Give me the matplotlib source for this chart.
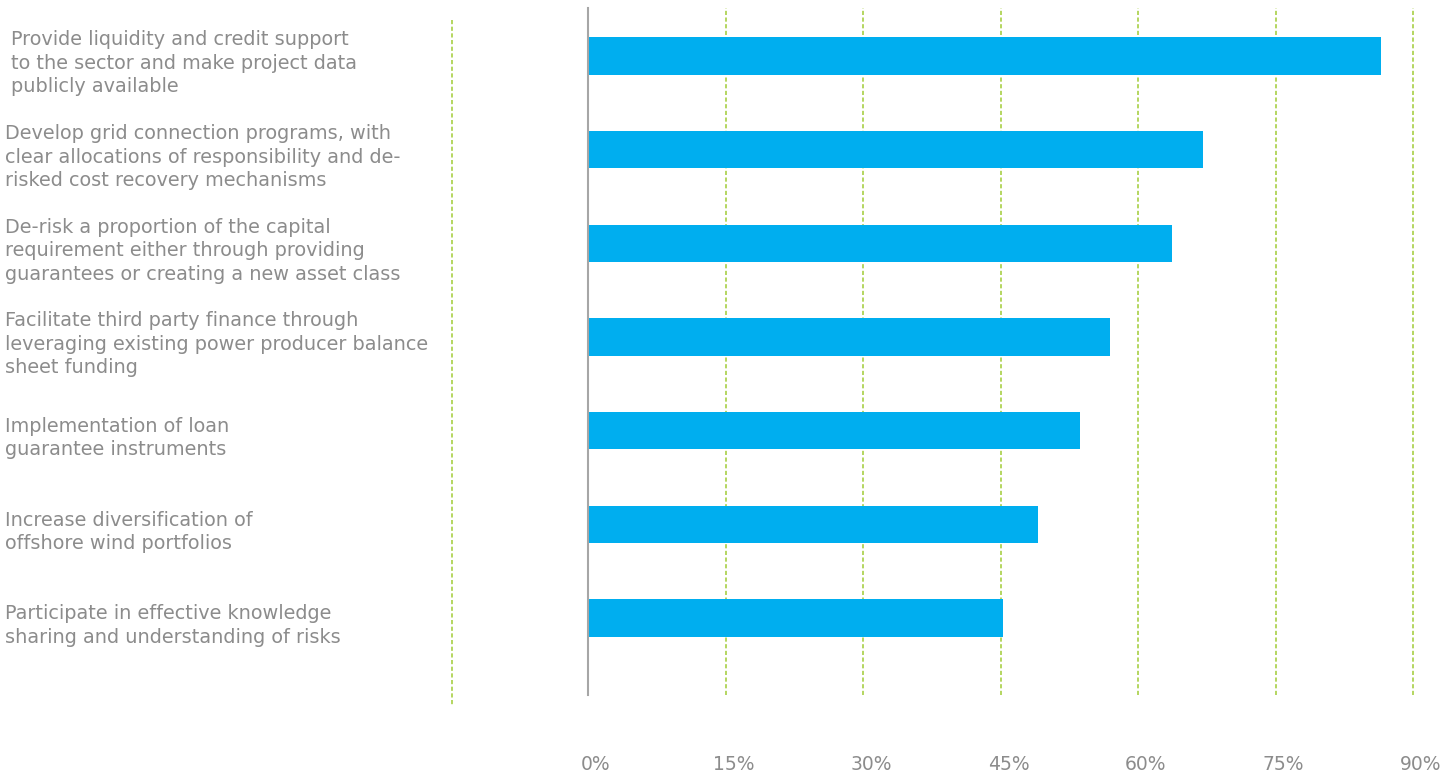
import matplotlib.pyplot as plt
from matplotlib.ticker import FuncFormatter
from matplotlib.transforms import ScaledTranslation

# 数据
labels = [
    "Provide liquidity and credit support\nto the sector and make project data\npublicly available",
    "Develop grid connection programs, with\nclear allocations of responsibility and de-\nrisked cost recovery mechanisms",
    "De-risk a proportion of the capital\nrequirement either through providing\nguarantees or creating a new asset class",
    "Facilitate third party finance through\nleveraging existing power producer balance\nsheet funding",
    "Implementation of loan\nguarantee instruments",
    "Increase diversification of\noffshore wind portfolios",
    "Participate in effective knowledge\nsharing and understanding of risks",
]
values = [86.5, 67.1, 63.7, 56.9, 53.7, 49.1, 45.3]
ticks = [0, 15, 30, 45, 60, 75, 90]

bar_color = "#00aeef"
grid_color = "#a8cf45"
text_color = "#8c8c8c"

fig = plt.figure(figsize=(14.43, 7.74), dpi=100)
ax = fig.add_axes([588 / 1443, 1 - 695 / 774, 825 / 1443, 687 / 774])

pos = list(range(len(values)))
ax.barh(pos, values, height=0.4, color=bar_color, zorder=3)

ax.set_xlim(0, 90)
ax.set_ylim(6.82, -0.51)
ax.set_xticks(ticks)
ax.xaxis.set_major_formatter(FuncFormatter(lambda v, p: "%d%%" % v))
ax.tick_params(axis="x", length=0, pad=43, labelsize=13.5, labelcolor=text_color)
ax.set_yticks([])
# 刻度标签稍微右移
for lab in ax.get_xticklabels():
    lab.set_transform(lab.get_transform() + ScaledTranslation(8 / 100, 0, fig.dpi_scale_trans))

for s in ax.spines.values():
    s.set_visible(False)

# 网格线
for t in ticks[1:]:
    ax.axvline(t, color=grid_color, lw=1.2, ls=(0, (2.5, 1.5)), zorder=1, clip_on=False)
ax.axvline(0, color="#a6a6a6", lw=1.5, zorder=4, clip_on=False)

# 左侧虚线
ax.plot([-0.165, -0.165], [0.9825, -0.016], transform=ax.transAxes,
        color=grid_color, lw=1.2, ls=(0, (2.5, 1.5)), clip_on=False)

# 类别标签
ytr = ax.get_yaxis_transform()
for i, lab in enumerate(labels):
    x0 = -0.699 if i == 0 else -0.707
    ax.text(x0, i + 0.08, lab, transform=ytr, ha="left", va="center",
            fontsize=13.9, color=text_color, linespacing=1.3, clip_on=False)

fig.savefig("out.png", dpi=100)
